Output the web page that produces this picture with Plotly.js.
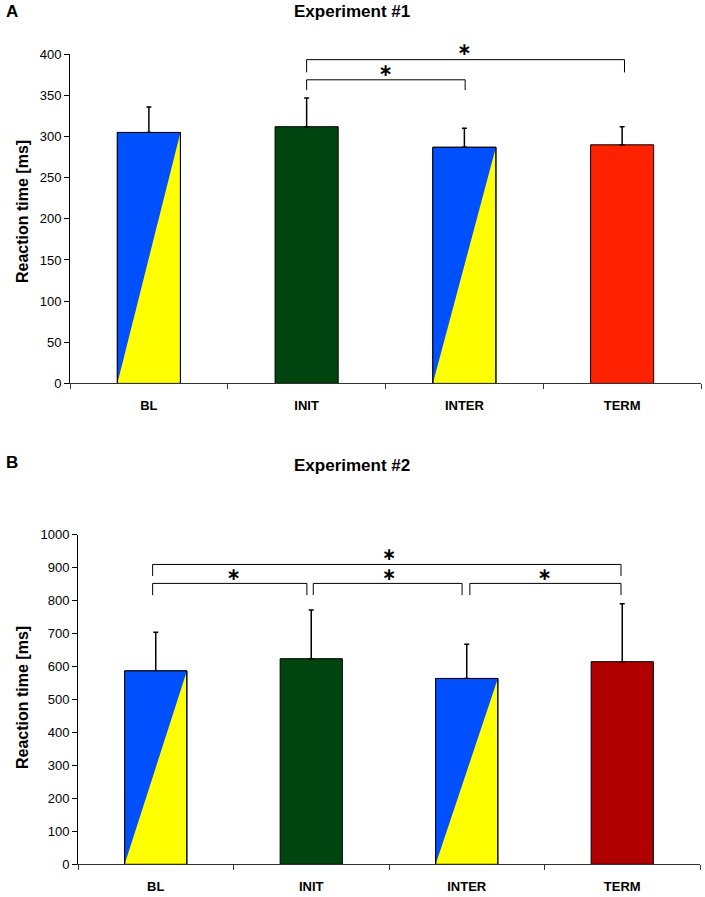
<!DOCTYPE html>
<html>
<head>
<meta charset="utf-8">
<script src="https://cdn.plot.ly/plotly-3.0.1.min.js"></script>
<style>html,body{margin:0;padding:0;background:#fff;}#chart{width:705px;height:897px;}</style>
</head>
<body>
<div id="chart"></div>
<script>
// ---- data ----
const categories = ['BL', 'INIT', 'INTER', 'TERM'];
const exp1Mean = [305, 312, 287, 290];
const exp1Err  = [31, 35, 23, 22];
const exp2Mean = [587, 624, 564, 615];
const exp2Err  = [117, 148, 104, 176];
const exp1TickVals = [0, 50, 100, 150, 200, 250, 300, 350, 400];
const exp2TickVals = [0, 100, 200, 300, 400, 500, 600, 700, 800, 900, 1000];
// significant comparisons [from, to]
const exp1Pairs = [[1, 3], [1, 2]];
const exp2Pairs = [[0, 3], [0, 1], [1, 2], [2, 3]];

// ---- styles ----
const FONT = 'Liberation Sans, Arial, Helvetica, sans-serif';
const STAR_FONT = 'DejaVu Sans, Liberation Sans, sans-serif';
const BLUE = '#0050ff', YELLOW = '#ffff00';
const exp1Fill = ['split', '#00450f', 'split', '#ff2200'];
const exp2Fill = ['split', '#00450f', 'split', '#b00000'];
const BAR_W = 0.4;
// bracket geometry (y levels in data units, x insets in category units)
const exp1Brackets = [
  {top: 393.5, leg: 378, star: 394, x0: 0, x1: 0.015},
  {top: 369, leg: 356.5, star: 369, x0: 0, x1: 0.005}
];
const exp2Brackets = [
  {top: 910, leg: 875, star: 910, x0: -0.02, x1: -0.008},
  {top: 852.5, leg: 817, star: 848.5, x0: -0.02, x1: -0.028},
  {top: 852.5, leg: 817, star: 848.5, x0: 0.013, x1: -0.03},
  {top: 852.5, leg: 817, star: 848.5, x0: 0.02, x1: -0.008}
];

const xs = categories.map((c, i) => i);

function panelTraces(mean, err, fills, pairs, brackets, xa, ya) {
  const traces = [];
  traces.push({
    type: 'bar', x: xs, y: mean, width: BAR_W, xaxis: xa, yaxis: ya,
    marker: {color: fills.map(f => f === 'split' ? YELLOW : f), line: {color: '#000', width: 1}},
    error_y: {type: 'data', symmetric: false, array: err, arrayminus: err.map(() => 0),
              color: '#000', thickness: 1.5, width: 2.5},
    hoverinfo: 'skip', showlegend: false
  });
  fills.forEach((f, i) => {
    if (f !== 'split') return;
    const l = i - BAR_W / 2, r = i + BAR_W / 2;
    traces.push({
      type: 'scatter', mode: 'lines', xaxis: xa, yaxis: ya,
      x: [l, l, r, l], y: [0, mean[i], mean[i], 0],
      fill: 'toself', fillcolor: BLUE, line: {width: 0, color: BLUE},
      hoverinfo: 'skip', showlegend: false
    });
    traces.push({
      type: 'scatter', mode: 'lines', xaxis: xa, yaxis: ya,
      x: [l, l, r, r], y: [0, mean[i], mean[i], 0],
      line: {width: 1, color: '#000'}, hoverinfo: 'skip', showlegend: false
    });
  });
  pairs.forEach((p, k) => {
    const b = brackets[k];
    const a = p[0] + b.x0, c = p[1] + b.x1;
    traces.push({
      type: 'scatter', mode: 'lines', xaxis: xa, yaxis: ya,
      x: [a, a, c, c], y: [b.leg, b.top, b.top, b.leg],
      line: {width: 1, color: '#000'}, hoverinfo: 'skip', showlegend: false, cliponaxis: false
    });
    traces.push({
      type: 'scatter', mode: 'text', xaxis: xa, yaxis: ya,
      x: [(p[0] + p[1]) / 2], y: [b.star], text: ['∗'], textposition: 'top center',
      textfont: {family: STAR_FONT, size: 17, color: '#000', weight: 'bold'},
      hoverinfo: 'skip', showlegend: false, cliponaxis: false
    });
  });
  return traces;
}

const data = [].concat(
  panelTraces(exp1Mean, exp1Err, exp1Fill, exp1Pairs, exp1Brackets, 'x', 'y'),
  panelTraces(exp2Mean, exp2Err, exp2Fill, exp2Pairs, exp2Brackets, 'x2', 'y2')
);

const W = 705, H = 897;
function xAxis(px0, px1, anchor) {
  return {
    domain: [px0 / W, px1 / W], anchor: anchor, range: [-0.5, 3.5],
    tickmode: 'array', tickvals: xs, ticktext: categories,
    ticks: 'outside', ticklen: 10, tickcolor: 'rgba(0,0,0,0)',
    tickfont: {family: FONT, size: 13, color: '#000', weight: 'bold'},
    minor: {tickmode: 'array', tickvals: [-0.5, 0.5, 1.5, 2.5, 3.5], ticks: 'outside', ticklen: 5, tickcolor: '#333', tickwidth: 1, showgrid: false},
    showline: true, linecolor: '#333', linewidth: 1, showgrid: false, zeroline: false, fixedrange: true
  };
}
function yAxis(pxTop, pxBottom, anchor, range, tickvals) {
  return {
    domain: [(H - pxBottom) / H, (H - pxTop) / H], anchor: anchor, range: range,
    tickmode: 'array', tickvals: tickvals,
    ticks: 'outside', ticklen: 5, tickcolor: '#000', tickwidth: 1,
    tickfont: {family: FONT, size: 13, color: '#000'},
    showline: true, linecolor: '#000', linewidth: 1, showgrid: false, zeroline: false,
    fixedrange: true
  };
}
function ann(text, px, py, size, angle) {
  return {text: text, x: px / W, y: 1 - py / H, xref: 'paper', yref: 'paper', showarrow: false,
          textangle: angle || 0, xanchor: 'center', yanchor: 'middle',
          font: {family: FONT, size: size, color: '#000', weight: 'bold'}};
}

const layout = {
  width: W, height: H, margin: {l: 0, r: 0, t: 0, b: 0},
  paper_bgcolor: '#fff', plot_bgcolor: '#fff', showlegend: false,
  barmode: 'overlay',
  xaxis: xAxis(70, 701, 'y'),
  yaxis: yAxis(54.3, 383.4, 'x', [0, 400], exp1TickVals),
  xaxis2: xAxis(78, 700, 'y2'),
  yaxis2: yAxis(534.8, 864.3, 'x2', [0, 1000], exp2TickVals),
  annotations: [
    ann('A', 12, 12, 17),
    ann('Experiment #1', 352, 12, 17),
    ann('B', 12, 463, 17),
    ann('Experiment #2', 352, 465, 17),
    ann('Reaction time [ms]', 22, 212, 16, -90),
    ann('Reaction time [ms]', 22, 698, 16, -90)
  ]
};

Plotly.newPlot('chart', data, layout, {displayModeBar: false, staticPlot: true});
</script>
</body>
</html>
